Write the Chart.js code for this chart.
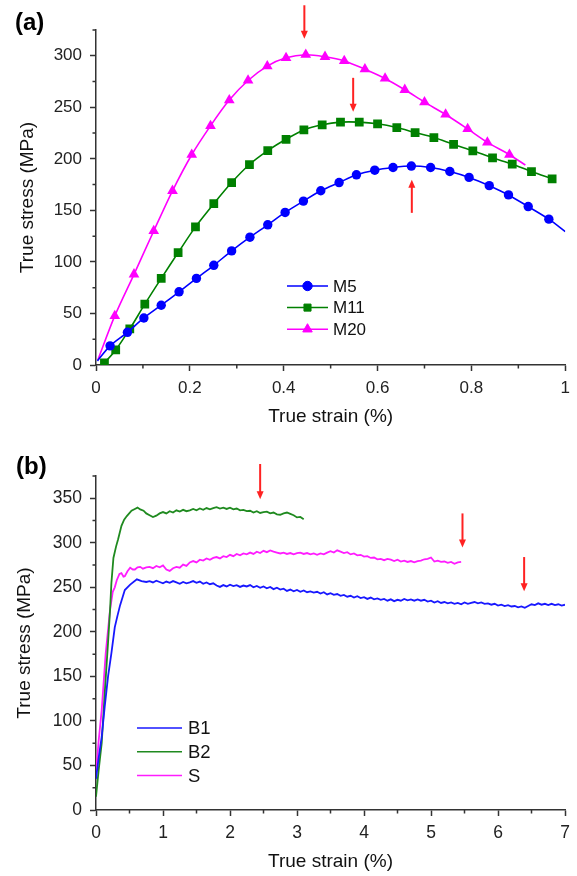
<!DOCTYPE html>
<html>
<head>
<meta charset="utf-8">
<script src="https://cdn.jsdelivr.net/npm/chart.js@4"></script>
<style>
  body { margin: 0; background: #fff; }
  .panel { position: relative; width: 577px; }
  #panelA { height: 440px; }
  #panelB { height: 436px; }
</style>
</head>
<body>
<div class="panel" id="panelA"><canvas id="chartA"></canvas></div>
<div class="panel" id="panelB"><canvas id="chartB"></canvas></div>
<script>
// ---- (a) tensile curves with markers ----
const m5Strain = [0.003, 0.03, 0.067, 0.102, 0.139, 0.177, 0.214, 0.251, 0.289, 0.328, 0.366, 0.403, 0.442, 0.479, 0.518, 0.555, 0.594, 0.633, 0.672, 0.713, 0.754, 0.795, 0.838, 0.879, 0.921, 0.965, 1.0];
const m5Stress = [4, 18.6, 31.7, 45.6, 58, 71, 84, 96.7, 110.7, 124, 136, 148, 159, 169, 177, 184.5, 189, 191.6, 193, 191.6, 187.7, 182, 174, 165, 153.7, 141.5, 129.4];

const m11Strain = [0.018, 0.042, 0.072, 0.104, 0.139, 0.175, 0.212, 0.251, 0.289, 0.327, 0.366, 0.405, 0.443, 0.482, 0.521, 0.561, 0.6, 0.641, 0.68, 0.72, 0.762, 0.803, 0.845, 0.887, 0.928, 0.972];
const m11Stress = [2, 14.6, 35, 59, 84, 109, 134, 156.5, 177, 194.5, 208, 219, 228, 233, 235.6, 235.6, 234, 230.4, 225.5, 220.7, 214, 207.8, 201, 194.8, 187.7, 180.6];

const m20Strain = [0.004, 0.04, 0.081, 0.123, 0.163, 0.204, 0.244, 0.284, 0.324, 0.365, 0.405, 0.447, 0.488, 0.529, 0.573, 0.616, 0.658, 0.7, 0.745, 0.792, 0.834, 0.881, 0.915];
const m20Stress = [5, 47.6, 88, 130, 169, 204, 232, 257, 276, 290, 298, 301, 299, 295, 287, 278, 267, 255, 243, 229, 216, 204, 194];

const ticksAX = [0, 0.2, 0.4, 0.6, 0.8, 1];
const labelsAX = ['0', '0.2', '0.4', '0.6', '0.8', '1'];
const minorAX = [0.1, 0.3, 0.5, 0.7, 0.9];
const ticksAY = [0, 50, 100, 150, 200, 250, 300];
const minorAY = [25, 75, 125, 175, 225, 275, 325];

// peak arrows: strain, tail stress, tip stress
const arrowAStrain = [0.444, 0.548, 0.673];
const arrowAFrom = [349, 278.6, 147.6];
const arrowATo = [316.5, 245.6, 179.6];

// ---- (b) measured curves ----
const b1RampStrain = [0.0, 0.035, 0.085, 0.13, 0.18, 0.23, 0.28, 0.32, 0.36, 0.43, 0.51, 0.61, 0.68, 0.75];
const b1RampStress = [35, 56, 82, 116, 150, 176, 205, 218, 230, 247, 253, 259, 257, 256];
const b2RampStrain = [0.0, 0.04, 0.085, 0.13, 0.18, 0.21, 0.23, 0.26, 0.3, 0.33, 0.38, 0.42, 0.46, 0.53, 0.58, 0.62, 0.66, 0.71, 0.75];
const b2RampStress = [15, 45, 75, 131, 188, 225, 255, 283, 296, 304, 319, 326, 330, 336, 338, 339.5, 337.5, 336, 333];
const sRampStrain = [0.0, 0.04, 0.085, 0.145, 0.21, 0.25, 0.28, 0.31, 0.35, 0.38, 0.41, 0.43, 0.47, 0.51, 0.55, 0.58, 0.62, 0.66, 0.7, 0.75];
const sRampStress = [42, 78, 112, 176, 225, 245, 250, 258, 265, 266, 262, 262.5, 268, 272, 270, 270, 272.5, 273, 271, 272.5];

// plateau sampling, every 0.05 % from 0.8 to 7.0
const strainGrid = [
  0.8, 0.85, 0.9, 0.95, 1.0, 1.05, 1.1, 1.15, 1.2, 1.25,
  1.3, 1.35, 1.4, 1.45, 1.5, 1.55, 1.6, 1.65, 1.7, 1.75,
  1.8, 1.85, 1.9, 1.95, 2.0, 2.05, 2.1, 2.15, 2.2, 2.25,
  2.3, 2.35, 2.4, 2.45, 2.5, 2.55, 2.6, 2.65, 2.7, 2.75,
  2.8, 2.85, 2.9, 2.95, 3.0, 3.05, 3.1, 3.15, 3.2, 3.25,
  3.3, 3.35, 3.4, 3.45, 3.5, 3.55, 3.6, 3.65, 3.7, 3.75,
  3.8, 3.85, 3.9, 3.95, 4.0, 4.05, 4.1, 4.15, 4.2, 4.25,
  4.3, 4.35, 4.4, 4.45, 4.5, 4.55, 4.6, 4.65, 4.7, 4.75,
  4.8, 4.85, 4.9, 4.95, 5.0, 5.05, 5.1, 5.15, 5.2, 5.25,
  5.3, 5.35, 5.4, 5.45, 5.5, 5.55, 5.6, 5.65, 5.7, 5.75,
  5.8, 5.85, 5.9, 5.95, 6.0, 6.05, 6.1, 6.15, 6.2, 6.25,
  6.3, 6.35, 6.4, 6.45, 6.5, 6.55, 6.6, 6.65, 6.7, 6.75,
  6.8, 6.85, 6.9, 6.95, 7.0
];
const b1Plateau = [
  257, 255.5, 257.5, 256, 254.5, 256.5, 255, 257, 255.5, 254,
  256, 254.5, 255.5, 257, 255, 256.5, 254, 255.5, 253.5, 254.5,
  252, 250.5, 252.5, 251, 253, 251.5, 252.5, 250.5, 252, 251,
  252.5, 250, 251.5, 249.5, 251, 249, 250.5, 248, 249.5, 247.5,
  248.5, 246, 247.5, 245.5, 247, 245, 246.5, 244.5, 245.5, 244,
  245, 243, 244.5, 242, 243.5, 241.5, 242.5, 240.5, 241.5, 239.5,
  240.5, 238.5, 240, 238, 239, 237, 238.5, 236.5, 237.5, 236,
  237, 235, 236.5, 234.5, 236, 235, 237, 235.5, 236.5, 235,
  236.5, 235, 236, 234, 235, 233, 234.5, 232.5, 233.5, 232,
  233, 231.5, 232.5, 231, 233, 231.5, 232.5, 233.5, 232, 233,
  231.5, 232, 230.5, 231.5, 229.5, 230.5, 229, 230, 228.5, 229,
  227.5, 228.5, 227, 229, 231, 230, 232, 230.5, 231.5, 230,
  231.5, 230, 231, 229.5, 230.5
];
const b2Plateau = [
  331, 329, 330.5, 333, 334.5, 333, 335.5, 334, 336.5, 335,
  337, 335.5, 336.5, 338, 336.5, 338.5, 337, 339, 337.5, 339,
  340, 338.5, 339.5, 338, 339.5, 337.5, 338.5, 336.5, 337, 335.5,
  336, 334, 335.5, 333.5, 334.5, 335, 333, 334, 332, 331.5,
  333, 334, 332.5, 331, 328.5, 329, 326.5
];
const sPlateau = [
  273, 271.5, 274, 272.5, 274.5, 270, 268.5, 271.5, 273, 272,
  275.5, 274, 278, 279.5, 278, 281, 280, 282.5, 281, 283,
  284, 282.5, 285, 284, 286.5, 285, 287.5, 286, 288, 287,
  289, 287.5, 290, 288.5, 291, 289.5, 291.5, 290, 289, 288,
  289, 287.5, 288.5, 287, 288.5, 289, 287.5, 288.5, 287, 288,
  286.5, 288, 287, 289, 290.5, 289, 291.5, 290, 288.5, 289.5,
  287, 288, 286, 286.5, 284.5, 285, 283, 283.5, 281.5, 282,
  280.5, 282, 281, 279.5, 281, 279, 280, 278.5, 279.5, 278,
  279.5, 280, 281.5, 282, 283.5, 279, 280, 278.5, 279, 277.5,
  278.5, 276.5, 278, 278.5
];

const ticksBX = [0, 1, 2, 3, 4, 5, 6, 7];
const minorBX = [0.5, 1.5, 2.5, 3.5, 4.5, 5.5, 6.5];
const ticksBY = [0, 50, 100, 150, 200, 250, 300, 350];
const minorBY = [25, 75, 125, 175, 225, 275, 325, 375];

const arrowBStrain = [2.45, 5.47, 6.39];
const arrowBFrom = [388.5, 333, 284];
const arrowBTo = [349, 294.7, 245.6];

Chart.defaults.font.family = '"Liberation Sans", Arial, sans-serif';
Chart.defaults.color = '#222';

const AXIS = '#333';

function pairs(xs, ys) {
  return xs.map((x, i) => ({ x: x, y: ys[i] }));
}
function curve(rampX, rampY, plateau) {
  return pairs(rampX, rampY).concat(pairs(strainGrid.slice(0, plateau.length), plateau));
}

// minor ticks, arrows, legend and panel letter
const decor = {
  id: 'decor',
  afterDatasetsDraw(chart, args, opts) {
    const ctx = chart.ctx;
    const xs = chart.scales.x, ys = chart.scales.y;
    const area = chart.chartArea;
    ctx.save();

    ctx.strokeStyle = AXIS;
    ctx.lineWidth = 1.5;
    ctx.beginPath();
    opts.minorX.forEach(v => {
      const px = xs.getPixelForValue(v);
      ctx.moveTo(px, area.bottom);
      ctx.lineTo(px, area.bottom + 3.5);
    });
    opts.minorY.forEach(v => {
      const py = ys.getPixelForValue(v);
      ctx.moveTo(area.left, py);
      ctx.lineTo(area.left - 3.5, py);
    });
    ctx.stroke();

    ctx.strokeStyle = '#f22';
    ctx.fillStyle = '#f22';
    ctx.lineWidth = 2;
    opts.arrows.x.forEach((v, i) => {
      const px = xs.getPixelForValue(v);
      const y1 = ys.getPixelForValue(opts.arrows.from[i]);
      const y2 = ys.getPixelForValue(opts.arrows.to[i]);
      const dir = Math.sign(y2 - y1);
      ctx.beginPath();
      ctx.moveTo(px, y1);
      ctx.lineTo(px, y2 - dir * 6);
      ctx.stroke();
      ctx.beginPath();
      ctx.moveTo(px, y2);
      ctx.lineTo(px - 3.5, y2 - dir * 8);
      ctx.lineTo(px + 3.5, y2 - dir * 8);
      ctx.closePath();
      ctx.fill();
    });

    const lg = opts.legend;
    ctx.font = lg.fontSize + 'px "Liberation Sans", Arial, sans-serif';
    ctx.textBaseline = 'middle';
    chart.data.datasets.forEach((ds, i) => {
      const y = lg.y + i * lg.gap;
      ctx.strokeStyle = ds.borderColor;
      ctx.lineWidth = 1.5;
      ctx.beginPath();
      ctx.moveTo(lg.x0, y);
      ctx.lineTo(lg.x1, y);
      ctx.stroke();
      if (lg.markers) {
        ctx.fillStyle = ds.pointBackgroundColor;
        ctx.strokeStyle = ds.borderColor;
        ctx.lineWidth = 1;
        Chart.helpers.drawPoint(ctx, { pointStyle: ds.pointStyle, radius: ds.legendRadius, rotation: 0, borderWidth: 1 }, (lg.x0 + lg.x1) / 2, y);
      }
      ctx.fillStyle = '#111';
      ctx.fillText(ds.label, lg.textX, y + 1);
    });

    ctx.font = 'bold 24px "Liberation Sans", Arial, sans-serif';
    ctx.fillStyle = '#000';
    ctx.textBaseline = 'middle';
    ctx.fillText(opts.panel.text, opts.panel.x, opts.panel.y);
    ctx.restore();
  }
};

function axes(o) {
  const tickFont = { size: o.tickSize };
  return {
    x: {
      type: 'linear',
      min: o.xMin, max: o.xMax,
      afterBuildTicks: s => { s.ticks = o.xTicks.map(v => ({ value: v })); },
      afterFit: s => { s.height = 63; },
      border: { display: true, color: AXIS, width: 1.5 },
      grid: { display: true, drawOnChartArea: false, drawTicks: true, tickLength: 6, tickColor: AXIS, tickWidth: 1.5 },
      ticks: { font: tickFont, color: '#222', padding: 7, maxRotation: 0, autoSkip: false,
               callback: (v, i) => o.xLabels ? o.xLabels[i] : String(v) },
      title: { display: true, text: 'True strain (%)', font: { size: 19 }, color: '#111', padding: 0 }
    },
    y: {
      type: 'linear',
      min: 0, max: o.yMax,
      afterBuildTicks: s => { s.ticks = o.yTicks.map(v => ({ value: v })); },
      afterFit: s => { s.width = o.yWidth; },
      border: { display: true, color: AXIS, width: 1.5 },
      grid: { display: true, drawOnChartArea: false, drawTicks: true, tickLength: 6, tickColor: AXIS, tickWidth: 1.5 },
      ticks: { font: tickFont, color: '#222', padding: 8, autoSkip: false, callback: v => String(v) },
      title: { display: true, text: 'True stress (MPa)', font: { size: 19 }, color: '#111', padding: 0 }
    }
  };
}

// ends of M5 and M20 carry no symbol
function bareEnds(r, len) {
  return ctx => (ctx.dataIndex === 0 || ctx.dataIndex === len - 1) ? 0 : r;
}

new Chart(document.getElementById('chartA'), {
  type: 'line',
  data: {
    datasets: [
      { label: 'M5', data: pairs(m5Strain, m5Stress), borderColor: '#0000ff', backgroundColor: '#0000ff',
        pointBackgroundColor: '#0000ff', pointStyle: 'circle', pointRadius: bareEnds(4.7, m5Strain.length),
        legendRadius: 4.7, borderWidth: 1.6, pointBorderWidth: 0, tension: 0.3 },
      { label: 'M11', data: pairs(m11Strain, m11Stress), borderColor: '#008000', backgroundColor: '#008000',
        pointBackgroundColor: '#008000', pointStyle: 'rect', pointRadius: 6.2,
        legendRadius: 5, borderWidth: 1.6, pointBorderWidth: 0, tension: 0.3 },
      { label: 'M20', data: pairs(m20Strain, m20Stress), borderColor: '#ff00ff', backgroundColor: '#ff00ff',
        pointBackgroundColor: '#ff00ff', pointStyle: 'triangle', pointRadius: bareEnds(6.2, m20Strain.length),
        legendRadius: 5.5, borderWidth: 1.6, pointBorderWidth: 0, tension: 0.3 }
    ]
  },
  options: {
    responsive: true,
    maintainAspectRatio: false,
    animation: false,
    events: [],
    layout: { padding: { left: 16, right: 10, top: 30, bottom: 12 } },
    scales: axes({ xMin: 0, xMax: 1, xTicks: ticksAX, xLabels: labelsAX, yMax: 325, yTicks: ticksAY, yWidth: 80, tickSize: 17 }),
    plugins: {
      legend: { display: false },
      tooltip: { enabled: false },
      decor: {
        minorX: minorAX, minorY: minorAY,
        arrows: { x: arrowAStrain, from: arrowAFrom, to: arrowATo },
        legend: { x0: 287, x1: 328, textX: 333, y: 286, gap: 21.6, fontSize: 17, markers: true },
        panel: { text: '(a)', x: 15, y: 23 }
      }
    }
  },
  plugins: [decor]
});

new Chart(document.getElementById('chartB'), {
  type: 'line',
  data: {
    datasets: [
      { label: 'B1', data: curve(b1RampStrain, b1RampStress, b1Plateau), borderColor: '#1818ff',
        borderWidth: 1.8, pointRadius: 0, tension: 0 },
      { label: 'B2', data: curve(b2RampStrain, b2RampStress, b2Plateau), borderColor: '#1f8a1f',
        borderWidth: 1.8, pointRadius: 0, tension: 0 },
      { label: 'S', data: curve(sRampStrain, sRampStress, sPlateau), borderColor: '#ff1cff',
        borderWidth: 1.8, pointRadius: 0, tension: 0 }
    ]
  },
  options: {
    responsive: true,
    maintainAspectRatio: false,
    animation: false,
    events: [],
    layout: { padding: { left: 13, right: 12, top: 36, bottom: 3 } },
    scales: axes({ xMin: 0, xMax: 7, xTicks: ticksBX, yMax: 375, yTicks: ticksBY, yWidth: 83, tickSize: 17.5 }),
    plugins: {
      legend: { display: false },
      tooltip: { enabled: false },
      decor: {
        minorX: minorBX, minorY: minorBY,
        arrows: { x: arrowBStrain, from: arrowBFrom, to: arrowBTo },
        legend: { x0: 137, x1: 182, textX: 188, y: 288, gap: 23.8, fontSize: 18.5, markers: false },
        panel: { text: '(b)', x: 16, y: 27 }
      }
    }
  },
  plugins: [decor]
});
</script>
</body>
</html>
